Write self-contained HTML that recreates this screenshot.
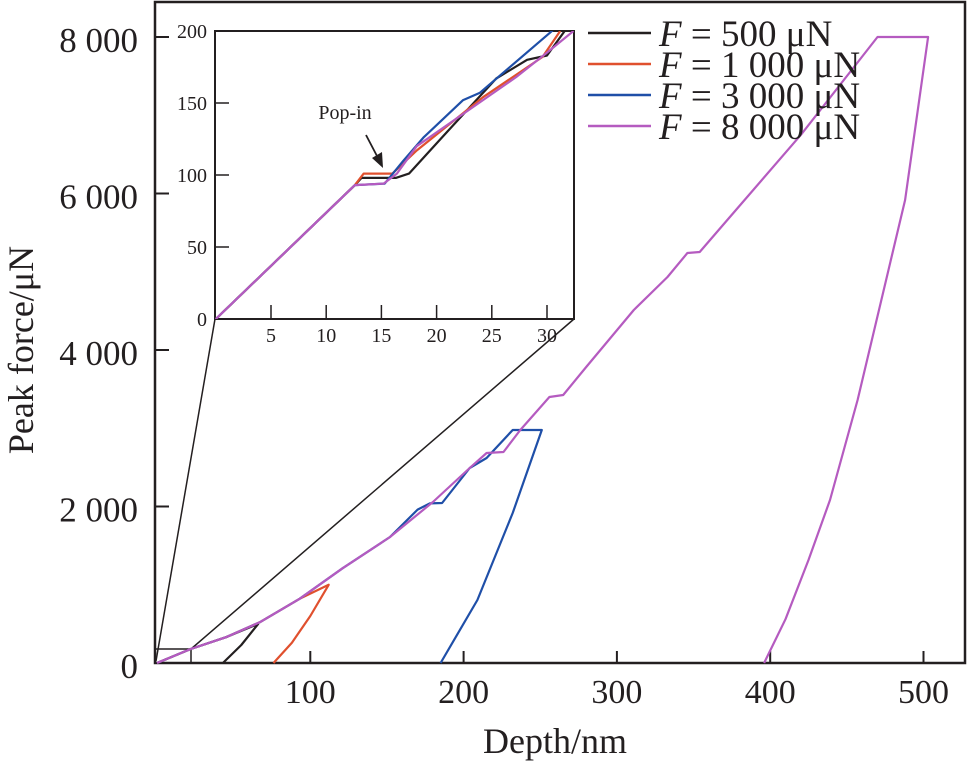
<!DOCTYPE html>
<html><head><meta charset="utf-8"><style>
body{margin:0;background:#fff}
svg{display:block;font-family:"Liberation Serif",serif}
</style></head><body>
<svg id="chart" width="967" height="768" viewBox="0 0 967 768" xmlns="http://www.w3.org/2000/svg">
<g id="main"></g>
<g id="inset"></g>
<g id="legend"></g>
</svg>
<script>
// ---- main chart data (depth nm, force μN) ----
const xTicks = [100, 200, 300, 400, 500];
const yTicks = [0, 2000, 4000, 6000, 8000];
const yTickLabels = ["0", "2 000", "4 000", "6 000", "8 000"];
const seriesNames = ["F = 500 μN", "F = 1 000 μN", "F = 3 000 μN", "F = 8 000 μN"];
const loadDepth = [0, 22, 45, 67, 93, 121, 152, 180, 204, 215, 226, 237, 256, 265, 280, 311, 333, 346, 354, 372, 420, 470, 503];
const loadForce = [0, 179, 330, 520, 820, 1210, 1610, 2058, 2492, 2684, 2696, 2978, 3399, 3425, 3783, 4511, 4933, 5240, 5252, 5661, 6750, 8000, 8000];
const unload8000Depth = [503, 488, 457, 439, 425, 410, 396];
const unload8000Force = [8000, 5917, 3361, 2083, 1316, 560, 0];
const s500Depth = [0, 22, 45, 66, 55, 43];
const s500Force = [0, 179, 330, 500, 230, 0];
const s1000Depth = [0, 22, 45, 67, 93, 112, 100, 88, 76];
const s1000Force = [0, 179, 330, 520, 820, 1000, 600, 260, 0];
const s3000Depth = [0, 22, 45, 67, 93, 121, 152, 170, 178, 186, 204, 215, 232, 251, 232, 209, 185];
const s3000Force = [0, 179, 330, 520, 820, 1210, 1610, 1960, 2040, 2045, 2492, 2620, 2978, 2978, 1917, 805, 0];
// ---- inset data (depth nm, force μN) ----
const insetXTicks = [5, 10, 15, 20, 25, 30];
const insetYTicks = [0, 50, 100, 150, 200];
const inPurpleD = [0, 12.6, 15.2, 16.4, 18.2, 24.2, 27.2, 30, 32.4];
const inPurpleF = [0, 93, 94, 101, 120, 152, 168, 185, 200];
const inBlueD = [0, 12.6, 15.3, 17, 18.8, 22.4, 23.9, 30.3, 31.2];
const inBlueF = [0, 93, 94, 110, 126, 152, 157, 199, 205];
const inRedD = [0, 12.6, 13.4, 16, 18.2, 24.2, 29.6, 31.2];
const inRedF = [0, 93, 101, 101, 117, 154, 182, 200];
const inBlackD = [0, 12.6, 13.2, 16.3, 17.5, 20.6, 25.4, 28.2, 30, 31.6];
const inBlackF = [0, 93, 98, 98, 101, 127, 167, 180, 183, 200];

const colors = ["#231f20", "#e0502e", "#1f4fa8", "#b55bc0"];
const NS = "http://www.w3.org/2000/svg";
const X = d => 157 + d * 1.533;
const Y = f => 663 - f * 0.07825;
const IX = d => 215.8 + d * 11.04;
const IY = f => 319 - f * 1.44;

function mk(tag, attrs, parent, text) {
  const e = document.createElementNS(NS, tag);
  for (const k in attrs) e.setAttribute(k, attrs[k]);
  if (text !== undefined) e.textContent = text;
  parent.appendChild(e);
  return e;
}
function pathD(ds, fs, fx, fy) {
  return ds.map((d, i) => (i ? "L" : "M") + fx(d).toFixed(1) + "," + fy(fs[i]).toFixed(1)).join(" ");
}
const main = document.getElementById("main");
const inset = document.getElementById("inset");
const legend = document.getElementById("legend");

let fr = mk("rect", {x: 155, y: 2, width: 810, height: 661, fill: "none", stroke: "#231f20", "stroke-width": 2.5}, main);


xTicks.forEach(t => {
  const l = mk("line", {x1: X(t), x2: X(t), y1: 663, y2: 651, stroke: "#231f20", "stroke-width": 2}, main);
  
  
  const tx = mk("text", {x: X(t), y: 703, "text-anchor": "middle", "font-size": 34, fill: "#231f20"}, main, String(t));
  
  
});
yTicks.forEach((t, i) => {
  const l = mk("line", {x1: 155, x2: 169, y1: Y(t), y2: Y(t), stroke: "#231f20", "stroke-width": 2}, main);
  
  
  const tx = mk("text", {x: 138, y: Y(t) + 15, "text-anchor": "end", "font-size": 35, fill: "#231f20"}, main, yTickLabels[i]);
  
  
});
let xt = mk("text", {x: 555, y: 753, "text-anchor": "middle", "font-size": 36, fill: "#231f20"}, main, "Depth/nm");


let yt = mk("text", {x: 0, y: 0, "text-anchor": "middle", "font-size": 36, fill: "#231f20", transform: "translate(33,350) rotate(-90)"}, main, "Peak force/μN");



let zb = mk("rect", {x: 155, y: 649, width: 36, height: 14, fill: "none", stroke: "#231f20", "stroke-width": 1.5}, main);


let c1 = mk("line", {x1: 156, y1: 661, x2: 215, y2: 319, stroke: "#231f20", "stroke-width": 1.5}, main);


let c2 = mk("line", {x1: 191, y1: 649, x2: 574, y2: 319, stroke: "#231f20", "stroke-width": 1.5}, main);



const mainSeries = [
  [s500Depth, s500Force, 0, 'series-500uN'],
  [s1000Depth, s1000Force, 1, 'series-1000uN'],
  [s3000Depth, s3000Force, 2, 'series-3000uN'],
  [loadDepth.concat(unload8000Depth), loadForce.concat(unload8000Force), 3, 'series-8000uN']
];
mainSeries.forEach(s => {
  const p = mk("path", {d: pathD(s[0], s[1], X, Y), fill: "none", stroke: colors[s[2]], "stroke-width": 2.2, "stroke-linejoin": "round"}, main);
  
  
});

let ib = mk("rect", {x: 215, y: 31, width: 359, height: 288, fill: "#fff", stroke: "#231f20", "stroke-width": 2}, inset);


insetXTicks.forEach(t => {
  const l = mk("line", {x1: IX(t), x2: IX(t), y1: 319, y2: 305, stroke: "#231f20", "stroke-width": 1.5}, inset);
  
  
  const tx = mk("text", {x: IX(t), y: 342, "text-anchor": "middle", "font-size": 20, fill: "#231f20"}, inset, String(t));
  
  
});
insetYTicks.forEach(t => {
  const l = mk("line", {x1: 215, x2: 229, y1: IY(t), y2: IY(t), stroke: "#231f20", "stroke-width": 1.5}, inset);
  
  
  const tx = mk("text", {x: 207, y: IY(t) + 7, "text-anchor": "end", "font-size": 20, fill: "#231f20"}, inset, String(t));
  
  
});
const cp = mk("clipPath", {id: "ic"}, inset);
mk("rect", {x: 215, y: 31, width: 359, height: 288}, cp);
const insetSeries = [
  [inBlackD, inBlackF, 0, 'inset-series-500uN'],
  [inRedD, inRedF, 1, 'inset-series-1000uN'],
  [inBlueD, inBlueF, 2, 'inset-series-3000uN'],
  [inPurpleD, inPurpleF, 3, 'inset-series-8000uN']
];
insetSeries.forEach(s => {
  const p = mk("path", {d: pathD(s[0], s[1], IX, IY), fill: "none", stroke: colors[s[2]], "stroke-width": 2.2, "stroke-linejoin": "round", "clip-path": "url(#ic)"}, inset);
  
  
});
let pt = mk("text", {x: 345, y: 119, "text-anchor": "middle", "font-size": 20, fill: "#231f20"}, inset, "Pop-in");


let ar = mk("line", {x1: 366, y1: 135, x2: 377, y2: 156, stroke: "#231f20", "stroke-width": 1.8}, inset);


let ah = mk("polygon", {points: "372,158 383,168 382,152", fill: "#231f20"}, inset);



const legendNums = ["500", "1 000", "3 000", "8 000"];
legendNums.forEach((n, i) => {
  const y = 33 + i * 31;
  const l = mk("line", {x1: 588, x2: 651, y1: y, y2: y, stroke: colors[i], "stroke-width": 2.5}, legend);
  
  
  const t = mk("text", {x: 659, y: y + 13, "font-size": 37, fill: "#231f20"}, legend);
  
  
  mk("tspan", {"font-style": "italic"}, t, "F");
  mk("tspan", {}, t, " = " + n + " μN");
});
</script>
</body></html>
